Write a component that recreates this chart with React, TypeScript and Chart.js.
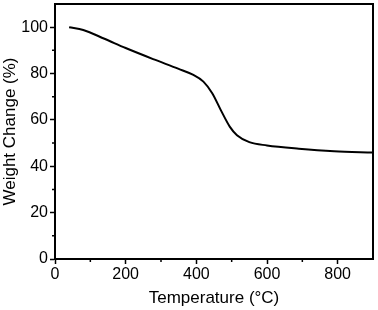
import React, { useEffect, useRef } from "react";
import { Chart, registerables } from "chart.js";

Chart.register(...registerables);

const temperature = [40, 80, 140, 200, 280, 350, 390, 420, 445, 470, 495, 515, 550, 600, 690, 790, 900];
const weightChange = [100, 98.8, 95, 91, 86.1, 82, 79.5, 76.5, 71.5, 64, 57, 53.4, 50.4, 49, 47.6, 46.5, 45.9];
const xMajorTicks = [0, 200, 400, 600, 800];
const xMinorTicks = [100, 300, 500, 700];
const yMajorTicks = [0, 20, 40, 60, 80, 100];
const yMinorTicks = [10, 30, 50, 70, 90];

const FONT = "'Liberation Sans', Arial, sans-serif";

const framePlugin = {
  id: "frame",
  afterDraw(chart: any) {
    const { ctx, chartArea } = chart;
    const xs = chart.scales.x;
    const ys = chart.scales.y;
    ctx.save();
    ctx.strokeStyle = "#000";
    ctx.lineWidth = 2;
    ctx.beginPath();
    ctx.moveTo(chartArea.left - 1, chartArea.top);
    ctx.lineTo(chartArea.right, chartArea.top);
    ctx.lineTo(chartArea.right, chartArea.bottom + 1);
    ctx.stroke();
    ctx.lineWidth = 1.5;
    ctx.beginPath();
    for (const v of xMinorTicks) {
      const px = xs.getPixelForValue(v);
      ctx.moveTo(px, chartArea.bottom);
      ctx.lineTo(px, chartArea.bottom + 3);
    }
    for (const v of yMinorTicks) {
      const py = ys.getPixelForValue(v);
      ctx.moveTo(chartArea.left, py);
      ctx.lineTo(chartArea.left - 3, py);
    }
    ctx.stroke();
    ctx.restore();
  },
};

export default function App() {
  const ref = useRef<HTMLCanvasElement | null>(null);
  useEffect(() => {
    if (!ref.current) return;
    const chart = new Chart(ref.current, {
      type: "line",
      data: {
        datasets: [
          {
            data: temperature.map((t, i) => ({ x: t, y: weightChange[i] })),
            borderColor: "#000",
            borderWidth: 2,
            pointRadius: 0,
            cubicInterpolationMode: "monotone",
            fill: false,
          },
        ],
      },
      options: {
        responsive: false,
        animation: false,
        layout: { padding: { top: 4, right: 5, left: 0, bottom: 0 } },
        plugins: { legend: { display: false }, tooltip: { enabled: false } },
        scales: {
          x: {
            type: "linear",
            min: 0,
            max: 900,
            afterFit: (s: any) => {
              s.height = 51;
              s.paddingLeft = 0;
              s.paddingRight = 0;
            },
            afterBuildTicks: (s: any) => {
              s.ticks = xMajorTicks.map((v) => ({ value: v }));
            },
            ticks: { color: "#000", font: { family: FONT, size: 16 }, padding: 1, maxRotation: 0 },
            grid: {
              drawOnChartArea: false,
              drawTicks: true,
              tickLength: 5,
              tickColor: "#000",
              tickWidth: 1.5,
            },
            border: { color: "#000", width: 2 },
            title: {
              display: true,
              text: "Temperature (°C)",
              color: "#000",
              font: { family: FONT, size: 17 },
              padding: { top: 0, bottom: 1 },
            },
          },
          y: {
            type: "linear",
            min: 0,
            max: 110,
            afterFit: (s: any) => {
              s.width = 55;
              s.paddingTop = 0;
              s.paddingBottom = 0;
            },
            afterBuildTicks: (s: any) => {
              s.ticks = yMajorTicks.map((v) => ({ value: v }));
            },
            ticks: { color: "#000", font: { family: FONT, size: 16 }, padding: 2 },
            grid: {
              drawOnChartArea: false,
              drawTicks: true,
              tickLength: 5,
              tickColor: "#000",
              tickWidth: 1.5,
            },
            border: { color: "#000", width: 2 },
            title: {
              display: true,
              text: "Weight Change (%)",
              color: "#000",
              font: { family: FONT, size: 17 },
              padding: { top: 0, bottom: 2 },
            },
          },
        },
      },
      plugins: [framePlugin],
    } as any);
    return () => chart.destroy();
  }, []);
  return (
    <div style={{ position: "fixed", left: 0, top: 0, width: 378, height: 310, background: "#fff" }}>
      <canvas ref={ref} width={378} height={310} style={{ display: "block" }} />
    </div>
  );
}
